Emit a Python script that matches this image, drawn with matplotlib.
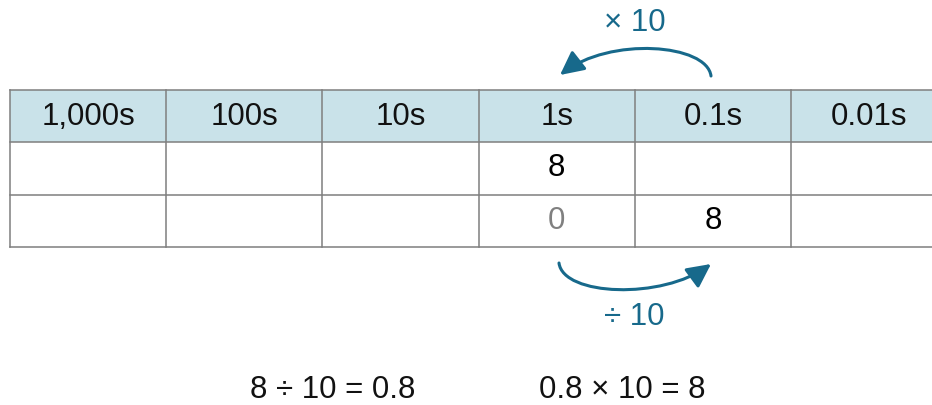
import matplotlib.pyplot as plt
from matplotlib.patches import Rectangle, FancyArrowPatch
from matplotlib.path import Path

plt.rcParams['font.family'] = ['Liberation Sans', 'DejaVu Sans']

# place value headers and the digits in the two rows
headers = ['1,000s', '100s', '10s', '1s', '0.1s', '0.01s']
row1 = ['', '', '', '8', '', '']
row2 = ['', '', '', '0', '8', '']
row2_colors = ['black', 'black', 'black', '#808080', 'black', 'black']
top_label = '× 10'
bottom_label = '÷ 10'
equations = ['8 ÷ 10 = 0.8', '0.8 × 10 = 8']

teal = '#17698b'
fs = 22.5

fig = plt.figure(figsize=(9.32, 4.05), dpi=100)
ax = fig.add_axes([0, 0, 1, 1])
ax.set_xlim(0, 932)
ax.set_ylim(405, 0)
ax.axis('off')

# table grid in pixel units
x0, colw = 10, 156.2
row_edges = [90, 142, 195, 247]
ncol = len(headers)

ax.add_patch(Rectangle((x0, row_edges[0]), 940 - x0, row_edges[1] - row_edges[0],
                       facecolor='#c9e2e9', edgecolor='none'))
for y in row_edges:
    ax.plot([x0, 940], [y, y], color='#7f7f7f', lw=1.1)
for i in range(ncol):
    xl = x0 + i * colw
    ax.plot([xl, xl], [row_edges[0], row_edges[-1]], color='#7f7f7f', lw=1.1)

for i in range(ncol):
    xc = x0 + (i + 0.5) * colw
    ax.text(xc, (row_edges[0] + row_edges[1]) / 2 + 1, headers[i], ha='center', va='center',
            fontsize=fs, color='#111111')
    ax.text(xc, (row_edges[1] + row_edges[2]) / 2, row1[i], ha='center', va='center',
            fontsize=fs, color='black')
    ax.text(xc, (row_edges[2] + row_edges[3]) / 2, row2[i], ha='center', va='center',
            fontsize=fs, color=row2_colors[i])

# curved arrows between the 1s and 0.1s columns (cubic curves)
codes = [Path.MOVETO, Path.CURVE4, Path.CURVE4, Path.CURVE4]
top_path = Path([(711, 76), (707, 44), (610, 36), (560, 75)], codes)
bot_path = Path([(559, 263), (563, 296), (662, 300), (711, 264)], codes)
for p in (top_path, bot_path):
    ax.add_patch(FancyArrowPatch(path=p, arrowstyle='-|>,head_length=0.8,head_width=0.4',
                                 mutation_scale=18, color=teal, lw=2.2))

ax.text(635, 23, top_label, ha='center', va='center', fontsize=fs, color=teal)
ax.text(634, 317, bottom_label, ha='center', va='center', fontsize=fs, color=teal)

ax.text(333, 390, equations[0], ha='center', va='center', fontsize=fs, color='#111111')
ax.text(622, 390, equations[1], ha='center', va='center', fontsize=fs, color='#111111')

fig.savefig('out.png', dpi=100, facecolor='white')
